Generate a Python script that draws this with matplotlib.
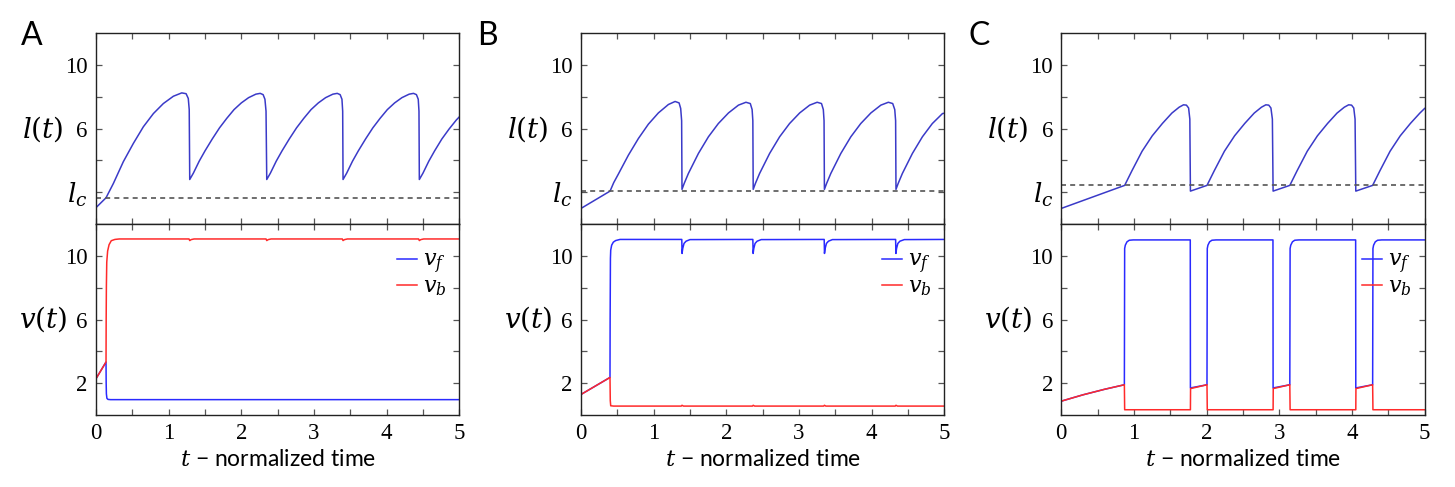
import matplotlib
matplotlib.use("Agg")
import matplotlib.pyplot as plt

plt.rcParams['mathtext.fontset'] = 'dejavuserif'
plt.rcParams['font.family'] = ['Liberation Serif', 'DejaVu Serif']

# ---------------- data ----------------
time_ticks = [0, 1, 2, 3, 4, 5]

# Panel A
A_l_t = [0, 0.138, 0.239, 0.376, 0.514, 0.652, 0.79, 0.927, 1.065, 1.18, 1.24, 1.27, 1.283, 1.29,
         1.34, 1.42, 1.50, 1.60, 1.70, 1.80, 1.90, 2.00, 2.10, 2.20, 2.26, 2.30, 2.325, 2.34, 2.35,
         2.40, 2.48, 2.56, 2.66, 2.76, 2.86, 2.96, 3.06, 3.16, 3.26, 3.32, 3.36, 3.385, 3.395, 3.40,
         3.45, 3.53, 3.61, 3.71, 3.81, 3.91, 4.01, 4.11, 4.21, 4.31, 4.37, 4.41, 4.435, 4.445, 4.45,
         4.50, 4.58, 4.66, 4.76, 4.86, 4.96, 5.0]
A_l_v = [1.03, 1.65, 2.55, 3.92, 5.07, 6.12, 6.95, 7.58, 8.04, 8.25, 8.2, 7.9, 7.2, 2.80,
         3.20, 3.95, 4.60, 5.35, 6.05, 6.65, 7.20, 7.62, 7.95, 8.17, 8.22, 8.14, 7.85, 7.1, 2.80,
         3.20, 3.95, 4.60, 5.35, 6.05, 6.65, 7.20, 7.62, 7.95, 8.17, 8.22, 8.14, 7.85, 7.1, 2.80,
         3.20, 3.95, 4.60, 5.35, 6.05, 6.65, 7.20, 7.62, 7.95, 8.17, 8.22, 8.14, 7.85, 7.1, 2.80,
         3.20, 3.95, 4.60, 5.35, 5.98, 6.55, 6.74]
A_lc = 1.63
A_vf_t = [0, 0.138, 0.140, 0.143, 0.150, 0.165, 0.20, 5.0]
A_vf_v = [2.28, 3.33, 2.0, 1.33, 1.05, 0.98, 0.965, 0.965]
A_vb_t = [0, 0.138, 0.140, 0.143, 0.148, 0.16, 0.18, 0.21, 0.26, 0.32,
          1.28, 1.29, 1.31, 1.35, 2.34, 2.35, 2.37, 2.41, 3.39, 3.40, 3.42, 3.46,
          4.44, 4.45, 4.47, 4.51, 5.0]
A_vb_v = [2.28, 3.33, 6.0, 8.1, 9.6, 10.3, 10.7, 10.95, 11.03, 11.06,
          11.06, 10.96, 11.02, 11.06, 11.06, 10.96, 11.02, 11.06, 11.06, 10.96, 11.02, 11.06,
          11.06, 10.96, 11.02, 11.06, 11.06]

# Panel B
B_l_t = [0, 0.40, 0.45, 0.514, 0.652, 0.79, 0.927, 1.065, 1.203, 1.295, 1.35, 1.372, 1.385, 1.39,
         1.42, 1.478, 1.616, 1.754, 1.89, 2.03, 2.167, 2.27, 2.33, 2.355, 2.365, 2.37,
         2.40, 2.458, 2.596, 2.734, 2.87, 3.01, 3.147, 3.25, 3.31, 3.335, 3.345, 3.35,
         3.38, 3.438, 3.576, 3.714, 3.85, 3.99, 4.127, 4.23, 4.29, 4.318, 4.33, 4.335,
         4.365, 4.423, 4.561, 4.699, 4.835, 4.975, 5.0]
B_l_v = [0.98, 2.07, 2.60, 3.14, 4.33, 5.38, 6.28, 6.99, 7.52, 7.71, 7.62, 7.27, 6.5, 2.18,
         2.55, 3.18, 4.44, 5.49, 6.32, 6.99, 7.48, 7.66, 7.58, 7.2, 6.5, 2.18,
         2.55, 3.18, 4.44, 5.49, 6.32, 6.99, 7.48, 7.66, 7.58, 7.2, 6.5, 2.18,
         2.55, 3.18, 4.44, 5.49, 6.32, 6.99, 7.48, 7.66, 7.58, 7.2, 6.5, 2.18,
         2.55, 3.18, 4.44, 5.49, 6.32, 6.95, 6.97]
B_lc = 2.05
B_vf_t = [0, 0.399, 0.401, 0.405, 0.409, 0.422, 0.445, 0.477, 0.537,
          1.387, 1.391, 1.400, 1.418, 1.446, 1.50,
          2.365, 2.369, 2.378, 2.396, 2.424, 2.48,
          3.347, 3.351, 3.360, 3.378, 3.406, 3.46,
          4.330, 4.334, 4.343, 4.361, 4.389, 4.45, 5.0]
B_vf_v = [1.29, 2.36, 6.0, 9.83, 10.36, 10.67, 10.86, 10.96, 11.03,
          11.03, 10.15, 10.46, 10.78, 10.92, 11.02,
          11.03, 10.15, 10.46, 10.78, 10.92, 11.02,
          11.03, 10.15, 10.46, 10.78, 10.92, 11.02,
          11.03, 10.15, 10.46, 10.78, 10.92, 11.02, 11.03]
B_vb_t = [0, 0.399, 0.403, 0.409, 0.45, 1.38, 1.39, 1.41, 2.36, 2.37, 2.39,
          3.34, 3.35, 3.37, 4.325, 4.335, 4.355, 5.0]
B_vb_v = [1.29, 2.36, 0.9, 0.58, 0.56, 0.56, 0.61, 0.56, 0.56, 0.61, 0.56,
          0.56, 0.61, 0.56, 0.56, 0.61, 0.56, 0.56]

# Panel C
C_l_t = [0, 0.872, 0.972, 1.112, 1.252, 1.392, 1.522, 1.622, 1.682, 1.722, 1.752, 1.769, 1.777,
         2.005, 2.105, 2.245, 2.385, 2.525, 2.655, 2.755, 2.815, 2.855, 2.885, 2.905, 2.915,
         3.145, 3.245, 3.385, 3.525, 3.665, 3.795, 3.895, 3.955, 3.995, 4.025, 4.043, 4.053,
         4.285, 4.385, 4.525, 4.665, 4.805, 4.935, 5.0]
C_l_v = [0.98, 2.43, 3.35, 4.58, 5.55, 6.33, 6.98, 7.35, 7.5, 7.48, 7.3, 6.6, 2.07,
         2.43, 3.35, 4.58, 5.55, 6.33, 6.98, 7.35, 7.5, 7.48, 7.3, 6.6, 2.07,
         2.43, 3.35, 4.58, 5.55, 6.33, 6.98, 7.35, 7.5, 7.48, 7.3, 6.6, 2.07,
         2.43, 3.35, 4.58, 5.55, 6.33, 6.98, 7.27]
C_lc = 2.43
C_vf_t = [0, 0.3, 0.6, 0.868, 0.870, 0.872, 0.881, 0.904, 0.936, 0.99, 1.775, 1.777,
          2.005, 2.007, 2.009, 2.018, 2.041, 2.073, 2.13, 2.913, 2.915,
          3.145, 3.147, 3.149, 3.158, 3.181, 3.213, 3.27, 4.051, 4.053,
          4.285, 4.287, 4.289, 4.298, 4.321, 4.353, 4.41, 5.0]
C_vf_v = [0.87, 1.27, 1.62, 1.9, 6.0, 10.46, 10.67, 10.88, 10.98, 11.0, 11.0, 1.7,
          1.9, 6.0, 10.46, 10.67, 10.88, 10.98, 11.0, 11.0, 1.7,
          1.9, 6.0, 10.46, 10.67, 10.88, 10.98, 11.0, 11.0, 1.7,
          1.9, 6.0, 10.46, 10.67, 10.88, 10.98, 11.0, 11.0]
C_vb_t = [0, 0.3, 0.6, 0.868, 0.872, 1.777, 1.779, 2.005, 2.009, 2.915, 2.917, 3.145, 3.149,
          4.053, 4.055, 4.285, 4.289, 5.0]
C_vb_v = [0.87, 1.27, 1.62, 1.9, 0.33, 0.33, 1.66, 1.9, 0.33, 0.33, 1.66, 1.9, 0.33,
          0.33, 1.66, 1.9, 0.33, 0.33]

panels = [
    ("A", A_l_t, A_l_v, A_lc, A_vf_t, A_vf_v, A_vb_t, A_vb_v),
    ("B", B_l_t, B_l_v, B_lc, B_vf_t, B_vf_v, B_vb_t, B_vb_v),
    ("C", C_l_t, C_l_v, C_lc, C_vf_t, C_vf_v, C_vb_t, C_vb_v),
]

# ---------------- styling ----------------
W, H = 1455, 487
fig = plt.figure(figsize=(W / 100, H / 100), dpi=100)

lefts_px = [96, 581, 1061.3]
ax_w_px = 363.3
top_y0, top_y1 = 224, 33.3
bot_y0, bot_y1 = 415, 224
letter_x_px = [21, 476.7, 968.3]

L_COLOR = '#3a3ac8'
F_COLOR = '#2a2aff'
B_COLOR = '#ff2a2a'
SANS = ['Lato', 'DejaVu Sans']

minor_x = [0.5 * k for k in range(11)]
x_labels = [str(int(v)) if (v == int(v) and int(v) in time_ticks) else '' for v in minor_x]


def style(ax):
    for s in ax.spines.values():
        s.set_linewidth(1.0)
        s.set_color('#222222')
    ax.tick_params(direction='in', length=4, width=0.9, color='#555555',
                   top=True, right=True, labelsize=16.5, pad=6)


for i, (letter, lt, lv, lc, ft, fv, bt, bv) in enumerate(panels):
    x0 = lefts_px[i] / W
    w = ax_w_px / W
    ax1 = fig.add_axes([x0, 1 - top_y0 / H, w, (top_y0 - top_y1) / H])
    ax2 = fig.add_axes([x0, 1 - bot_y0 / H, w, (bot_y0 - bot_y1) / H])

    ax1.plot(lt, lv, color=L_COLOR, lw=1.1)
    ax1.axhline(lc, color='#555555', lw=1.2, ls=(0, (3, 2.5)))
    ax1.set_xlim(0, 5)
    ax1.set_ylim(0, 12)
    ax1.set_xticks(minor_x)
    ax1.set_xticklabels([])
    ax1.set_yticks([2, 4, 6, 8, 10])
    ax1.set_yticklabels(['$l_c$', '', '6', '', '10'])
    style(ax1)
    ax1.get_yticklabels()[0].set_fontsize(19)
    ax1.text(-0.147, 0.5, '$l(t)$', transform=ax1.transAxes, fontsize=20,
             ha='center', va='center')

    ax2.plot(ft, fv, color=F_COLOR, lw=1.1, label='$v_f$')
    ax2.plot(bt, bv, color=B_COLOR, lw=1.1, label='$v_b$')
    ax2.set_xlim(0, 5)
    ax2.set_ylim(0, 12)
    ax2.set_xticks(minor_x)
    ax2.set_xticklabels(x_labels)
    ax2.set_yticks([2, 4, 6, 8, 10])
    ax2.set_yticklabels(['2', '', '6', '', '10'])
    style(ax2)
    ax2.text(-0.145, 0.5, '$v(t)$', transform=ax2.transAxes, fontsize=20,
             ha='center', va='center')
    ax2.set_xlabel('$t$ − normalized time', fontsize=16.5, family=SANS, labelpad=3)
    ax2.legend(loc='upper left', bbox_to_anchor=(0.829, 0.86), frameon=False,
               fontsize=16, handlelength=0.9, handletextpad=0.25, labelspacing=0.05,
               borderpad=0, borderaxespad=0)

    fig.text(letter_x_px[i] / W, 1 - 45 / H, letter, fontsize=23, family=SANS,
             ha='left', va='baseline')

fig.savefig('out.png', dpi=100)
